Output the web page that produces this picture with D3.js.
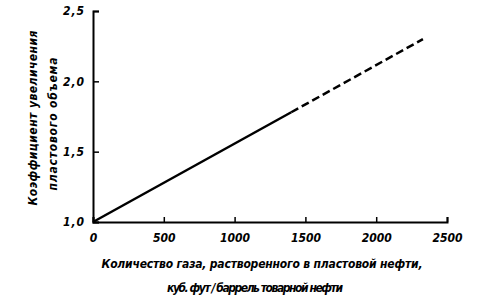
<!DOCTYPE html>
<html>
<head>
<meta charset="utf-8">
<script src="https://cdn.jsdelivr.net/npm/d3@7"></script>
<style>
  body { margin: 0; background: #fff; }
  svg text { font-family: 'DejaVu Sans Condensed', 'DejaVu Sans', sans-serif; font-style: italic; font-weight: bold; fill: #000; }
</style>
</head>
<body>
<div id="chart"></div>
<script>
// gas in solution, scf / STB
const solidX = [0, 1400];
const solidY = [1.0, 1.78];
const dashX = [1400, 2330];
const dashY = [1.78, 2.30];

const xTicks = [0, 500, 1000, 1500, 2000, 2500];
const xTickLabels = ['0', '500', '1000', '1500', '2000', '2500'];
const yTicks = [1.0, 1.5, 2.0, 2.5];
const yTickLabels = ['1,0', '1,5', '2,0', '2,5'];

const yTitle = ['Коэффициент увеличения', 'пластового объема'];
const xTitle = ['Количество газа, растворенного в пластовой нефти,', 'куб. фут / баррель товарной нефти'];

const width = 483, height = 300;
const margin = { left: 93, top: 11, right: 36, bottom: 78 };

const svg = d3.select('#chart').append('svg')
    .attr('width', width)
    .attr('height', height);

const x = d3.scaleLinear().domain([0, 2500]).range([margin.left, width - margin.right]);
const y = d3.scaleLinear().domain([1.0, 2.5]).range([height - margin.bottom, margin.top]);

// axes
const xAxis = d3.axisBottom(x).tickValues(xTicks).tickSize(-5).tickFormat((d, i) => xTickLabels[i]).tickPadding(11);
const yAxis = d3.axisLeft(y).tickValues(yTicks).tickSize(-6).tickFormat((d, i) => yTickLabels[i]).tickPadding(9);

svg.append('g')
    .attr('transform', `translate(0,${y(1.0)})`)
    .call(xAxis)
    .call(g => g.select('.domain').attr('stroke', '#000').attr('stroke-width', 2))
    .call(g => g.selectAll('.tick line').attr('stroke', '#000').attr('stroke-width', 1.5))
    .call(g => g.selectAll('.tick text').style('font-size', '12px'));

svg.append('g')
    .attr('transform', `translate(${x(0)},0)`)
    .call(yAxis)
    .call(g => g.select('.domain').attr('stroke', '#000').attr('stroke-width', 2))
    .call(g => g.selectAll('.tick line').attr('stroke', '#000').attr('stroke-width', 1.5))
    .call(g => g.selectAll('.tick text').style('font-size', '12px').attr('textLength', 21).attr('lengthAdjust', 'spacing'));

// line
const line = d3.line().x(d => x(d[0])).y(d => y(d[1]));

svg.append('path')
    .datum(d3.zip(solidX, solidY))
    .attr('fill', 'none')
    .attr('stroke', '#000')
    .attr('stroke-width', 2.5)
    .attr('d', line);

svg.append('path')
    .datum(d3.zip(dashX, dashY))
    .attr('fill', 'none')
    .attr('stroke', '#000')
    .attr('stroke-width', 2.5)
    .attr('stroke-dasharray', '8,4')
    .attr('d', line);

// axis titles
svg.append('text')
    .attr('transform', 'translate(37,118) rotate(-90)')
    .attr('text-anchor', 'middle')
    .style('font-size', '12px')
    .attr('textLength', 175)
    .attr('lengthAdjust', 'spacing')
    .text(yTitle[0]);

svg.append('text')
    .attr('transform', 'translate(57,124) rotate(-90)')
    .attr('text-anchor', 'middle')
    .style('font-size', '12px')
    .attr('textLength', 133)
    .attr('lengthAdjust', 'spacing')
    .text(yTitle[1]);

svg.append('text')
    .attr('x', 262)
    .attr('y', 268)
    .attr('text-anchor', 'middle')
    .style('font-size', '12px')
    .attr('textLength', 321)
    .attr('lengthAdjust', 'spacing')
    .text(xTitle[0]);

svg.append('text')
    .attr('x', 255)
    .attr('y', 292)
    .attr('text-anchor', 'middle')
    .style('font-size', '12px')
    .attr('textLength', 176)
    .attr('lengthAdjust', 'spacing')
    .text(xTitle[1]);
</script>
</body>
</html>
